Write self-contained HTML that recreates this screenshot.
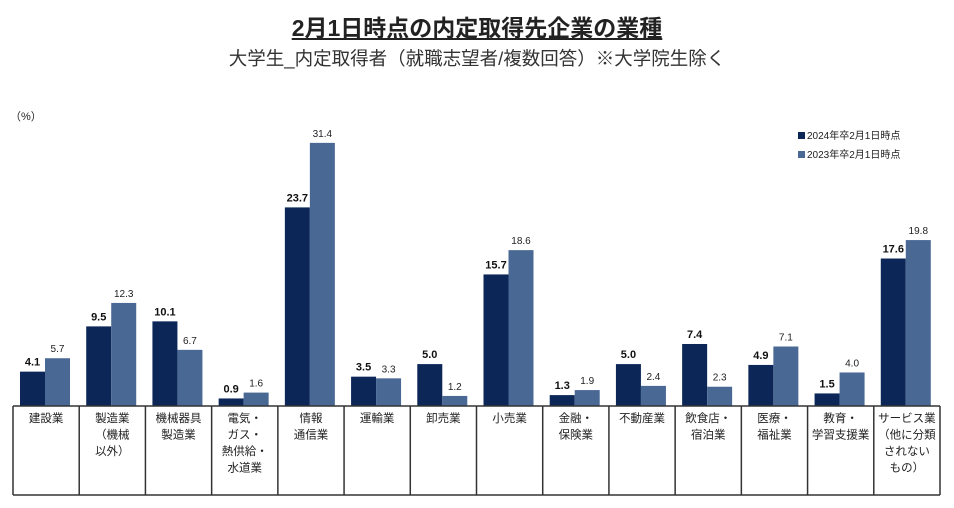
<!DOCTYPE html>
<html><head><meta charset="utf-8">
<style>
body{margin:0;width:954px;height:508px;background:#fff;font-family:"Liberation Sans","Noto Sans CJK JP",sans-serif;position:relative;overflow:hidden}
.t{position:absolute;white-space:nowrap}
</style></head><body>
<div class="t" style="left:0;width:954px;text-align:center;top:9px;font-size:23px;font-weight:bold;text-decoration:underline;color:#222">2月1日時点の内定取得先企業の業種</div>
<div class="t" style="left:0;width:954px;text-align:center;top:45px;font-size:18.5px;color:#333">大学生_内定取得者（就職志望者/複数回答）※大学院生除く</div>
<div class="t" style="left:10px;top:108px;font-size:11px;color:#222">（%）</div>
<div class="t" style="left:798px;top:127px;font-size:10px;color:#222"><span style="display:inline-block;width:7px;height:7px;background:#0b2657;margin-right:2px"></span>2024年卒2月1日時点</div>
<div class="t" style="left:798px;top:146px;font-size:10px;color:#222"><span style="display:inline-block;width:7px;height:7px;background:#4a6894;margin-right:2px"></span>2023年卒2月1日時点</div>
<svg id="c" width="954" height="508" style="position:absolute;left:0;top:0"></svg>
<script>
const categories=["建設業","製造業\n（機械\n以外）","機械器具\n製造業","電気・\nガス・\n熱供給・\n水道業","情報\n通信業","運輸業","卸売業","小売業","金融・\n保険業","不動産業","飲食店・\n宿泊業","医療・\n福祉業","教育・\n学習支援業","サービス業\n（他に分類\nされない\nもの）"];
const series2024=[4.1,9.5,10.1,0.9,23.7,3.5,5.0,15.7,1.3,5.0,7.4,4.9,1.5,17.6];
const series2023=[5.7,12.3,6.7,1.6,31.4,3.3,1.2,18.6,1.9,2.4,2.3,7.1,4.0,19.8];
const NS="http://www.w3.org/2000/svg";
const svg=document.getElementById('c');
const x0=13,x1=940,base=406,bottom=495,pxPer=8.38;
const cw=(x1-x0)/categories.length;
const xCol=i=>x0+i*cw;
const y=v=>base-v*pxPer;
function mk(t,a){const e=document.createElementNS(NS,t);for(const k in a)e.setAttribute(k,a[k]);svg.appendChild(e);return e;}
categories.forEach((c,i)=>{
  const cx=xCol(i);
  const b1=mk('rect',{x:cx+7,y:y(series2024[i]),width:25,height:series2024[i]*pxPer,fill:'#0b2657'});
  
  
  const b2=mk('rect',{x:cx+32,y:y(series2023[i]),width:25,height:series2023[i]*pxPer,fill:'#4a6894'});
  
  
  const l1=mk('text',{x:cx+19.5,y:y(series2024[i])-6,'text-anchor':'middle','font-size':11,'font-weight':'bold',fill:'#111'});
  l1.textContent=series2024[i].toFixed(1);
  
  
  const l2=mk('text',{x:cx+44.5,y:y(series2023[i])-6,'text-anchor':'middle','font-size':10,fill:'#222'});
  l2.textContent=series2023[i].toFixed(1);
  
  
  c.split('\n').forEach((ln,j)=>{
    const t=mk('text',{x:cx+cw/2,y:base+16+j*16.5,'text-anchor':'middle','font-size':11.5,fill:'#222'});
    t.textContent=ln;
    
    
  });
});
for(let i=0;i<=categories.length;i++){
  const l=mk('line',{x1:xCol(i),x2:xCol(i),y1:base,y2:bottom,stroke:'#333','stroke-width':1.5});
  
  
}
[base,bottom].forEach(yy=>{
  const l=mk('line',{x1:x0,x2:x1,y1:yy,y2:yy,stroke:'#333','stroke-width':1.5});
  
  
});
</script>
</body></html>
